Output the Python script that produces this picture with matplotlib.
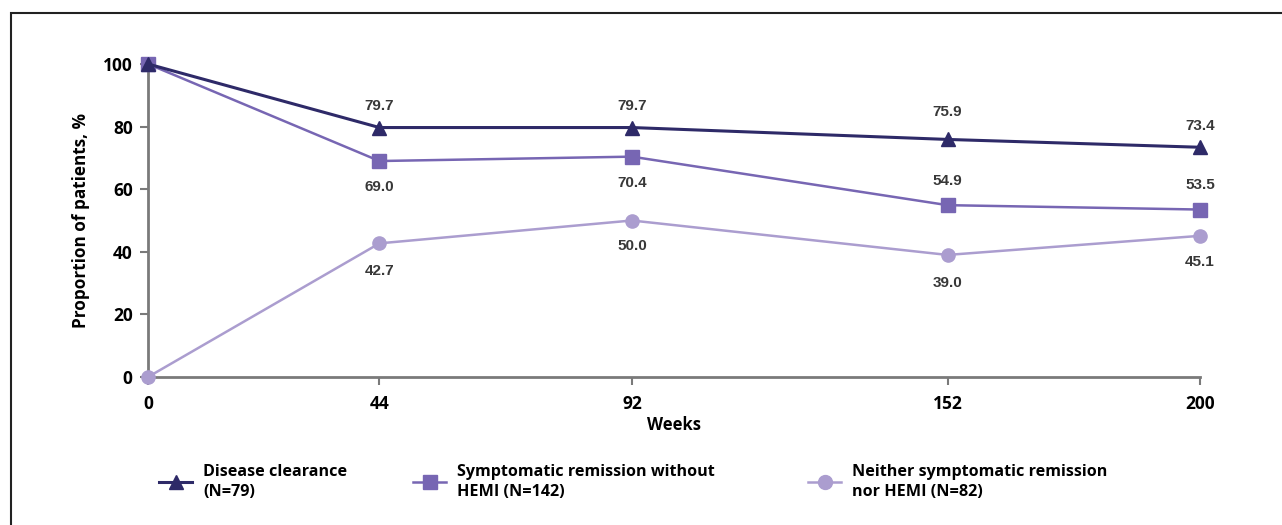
import matplotlib
matplotlib.use("Agg")
import matplotlib.pyplot as plt
from matplotlib.lines import Line2D
from matplotlib.patches import Rectangle

weeks = [0, 44, 92, 152, 200]
disease_clearance = [100, 79.7, 79.7, 75.9, 73.4]
symptomatic_remission = [100, 69.0, 70.4, 54.9, 53.5]
neither = [0, 42.7, 50.0, 39.0, 45.1]
series_names = ["Disease clearance\n(N=79)",
                "Symptomatic remission without\nHEMI (N=142)",
                "Neither symptomatic remission\nnor HEMI (N=82)"]
yticks = [0, 20, 40, 60, 80, 100]

c1, c2, c3 = "#2e2a68", "#7766b3", "#ab9dcf"
tick_font = "Open Sans"
lab_font = "Liberation Sans"

fig = plt.figure(figsize=(12.82, 5.25), dpi=100)
W, H = 1282, 525
ax = fig.add_axes([148 / W, (H - 377) / H, (1200 - 148) / W, (377 - 64) / H])

ax.plot(weeks, neither, color=c3, lw=1.8, marker="o", ms=9.5, mec=c3, mfc=c3, clip_on=False, zorder=3)
ax.plot(weeks, symptomatic_remission, color=c2, lw=1.8, marker="s", ms=10, mec=c2, mfc=c2, clip_on=False, zorder=4)
ax.plot(weeks, disease_clearance, color=c1, lw=2.2, marker="^", ms=10, mec=c1, mfc=c1, clip_on=False, zorder=5)

ax.set_xlim(0, 200)
ax.set_ylim(0, 100)
ax.set_xticks(weeks)
ax.set_yticks(yticks)
for s in ["top", "right"]:
    ax.spines[s].set_visible(False)
for s in ["left", "bottom"]:
    ax.spines[s].set_color("#7a7a7a")
    ax.spines[s].set_linewidth(2)
ax.tick_params(axis="both", colors="#7a7a7a", width=1.5, length=6, direction="out")
ax.tick_params(axis="x", pad=7)
ax.tick_params(axis="y", pad=5)
for lbl in ax.get_xticklabels() + ax.get_yticklabels():
    lbl.set_fontfamily(tick_font)
    lbl.set_fontweight("bold")
    lbl.set_fontsize(12.5)
    lbl.set_color("black")

ax.set_xlabel("Weeks", fontfamily=tick_font, fontweight="bold", fontsize=12, labelpad=2)
ax.set_ylabel("Proportion of patients, %", fontfamily=tick_font, fontweight="bold", fontsize=12.3, labelpad=9)

lab_kw = dict(textcoords="offset pixels", ha="center", va="center", fontsize=11,
              fontweight="bold", fontfamily=lab_font, color="#383838")
dc_off = [22, 22, 27, 21]
sr_off = [-26, -26, 24, 25]
ne_off = [-28, -26, -28, -26]
for x, y, o in zip(weeks[1:], disease_clearance[1:], dc_off):
    ax.annotate(f"{y:.1f}", (x, y), xytext=(0, o), **lab_kw)
for x, y, o in zip(weeks[1:], symptomatic_remission[1:], sr_off):
    ax.annotate(f"{y:.1f}", (x, y), xytext=(0, o), **lab_kw)
for x, y, o in zip(weeks[1:], neither[1:], ne_off):
    ax.annotate(f"{y:.1f}", (x, y), xytext=(0, o), **lab_kw)

# Legends
handles = [Line2D([], [], color=c1, lw=2.2, marker="^", ms=10, mfc=c1, mec=c1),
           Line2D([], [], color=c2, lw=1.8, marker="s", ms=10, mfc=c2, mec=c2),
           Line2D([], [], color=c3, lw=1.8, marker="o", ms=10, mfc=c3, mec=c3)]
anchors = [159, 413, 808]
for h, name, ax0 in zip(handles, series_names, anchors):
    leg = fig.legend([h], [name], loc="upper left", bbox_to_anchor=(ax0 / W, (H - 464) / H),
                     frameon=False, handlelength=2.05, handletextpad=0.68, borderpad=0, borderaxespad=0,
                     prop={"family": tick_font, "weight": "bold", "size": 11.6})
    for t in leg.get_texts():
        t.set_linespacing(1.35)

# Frame
fig.patches.append(Rectangle((11 / W, -0.1), 1.2, (H - 13) / H + 0.1, transform=fig.transFigure,
                             fill=False, edgecolor="#222222", lw=1.5))

fig.savefig("out.png", dpi=100)
